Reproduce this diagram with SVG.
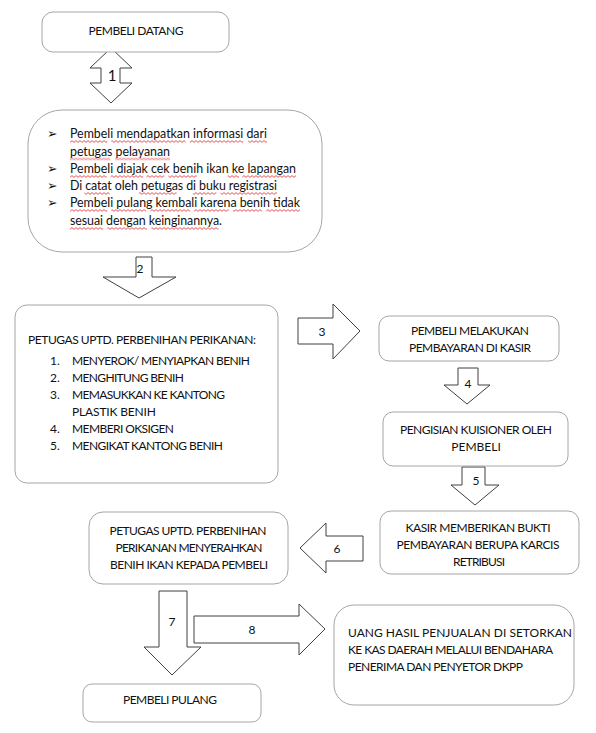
<svg xmlns="http://www.w3.org/2000/svg" width="596" height="733" viewBox="0 0 596 733">
<defs>
<pattern id="wv" patternUnits="userSpaceOnUse" x="0" y="0" width="4" height="3">
<path d="M0,0.6 L2,2.4 L4,0.6" fill="none" stroke="#e0262b" stroke-width="0.8"/>
</pattern>
</defs>
<style>
.box{fill:#fff;stroke:#a6a6a6;stroke-width:1}
.arr{fill:#fff;stroke:#404040;stroke-width:1}
text{font-family:Lato,"Liberation Sans",sans-serif;font-size:12px;fill:#111}
.lc{font-size:12.4px}
.c{text-anchor:middle}
.bl{font-family:"DejaVu Sans",sans-serif;font-size:12.5px}
.sq{fill:url(#wv)}
</style>
<rect width="596" height="733" fill="#fff"/>
<g id="connectors">
<polygon class="arr" points="111,48 132,68 120,68 120,83 132,83 111,103 90,83 101,83 101,68 90,68"/>
<text class="c" x="112" y="81" style="font-size:15px">1</text>
<polygon class="arr" points="136,257 152,257 152,277 176,277 139,298 103,277 136,277"/>
<text class="c" x="140" y="273">2</text>
<polygon class="arr" points="298,318 333,318 333,304 360,331 333,359 333,344 298,344"/>
<text class="c" x="322" y="336">3</text>
<polygon class="arr" points="458,368 478,368 478,385 490,385 467,404 444,385 458,385"/>
<text class="c" x="468" y="388">4</text>
<polygon class="arr" points="462,467 485,467 485,485 499,485 475,505 451,485 462,485"/>
<text class="c" x="476" y="485">5</text>
<polygon class="arr" points="363,536 363,561 326,561 326,573 300,548 326,523 326,536"/>
<text class="c" x="337" y="553">6</text>
<polygon class="arr" points="159,591 187,591 187,647 201,647 172,675 144,647 159,647"/>
<text class="c" x="172" y="626">7</text>
<polygon class="arr" points="194,616 299,616 299,604 325,629 299,655 299,643 194,643"/>
<text class="c" x="252" y="634">8</text>
</g>
<g id="n1">
<rect class="box" x="42" y="12" width="187" height="40" rx="11"/>
<text class="c" x="136" y="35" textLength="95">PEMBELI DATANG</text>
</g>
<g id="n2">
<rect class="box" x="28" y="110" width="294" height="142" rx="34"/>
<text class="bl" x="47" y="138">➢</text>
<text class="bl" x="47" y="173">➢</text>
<text class="bl" x="47" y="190">➢</text>
<text class="bl" x="47" y="207">➢</text>
<g transform="translate(0,140)"><rect class="sq" x="70" y="0" width="37.3" height="3"/><rect class="sq" x="111.3" y="0" width="74.2" height="3"/><rect class="sq" x="189.8" y="0" width="53.5" height="3"/><rect class="sq" x="248.2" y="0" width="18.8" height="3"/></g>
<g transform="translate(0,157.5)"><rect class="sq" x="70" y="0" width="40" height="3"/><rect class="sq" x="115" y="0" width="55" height="3"/></g>
<g transform="translate(0,175)"><rect class="sq" x="70" y="0" width="36.7" height="3"/><rect class="sq" x="110.6" y="0" width="32.6" height="3"/><rect class="sq" x="146.4" y="0" width="17.9" height="3"/><rect class="sq" x="168.5" y="0" width="28.3" height="3"/><rect class="sq" x="227.7" y="0" width="11.3" height="3"/><rect class="sq" x="242.3" y="0" width="53.7" height="3"/></g>
<g transform="translate(0,192)"><rect class="sq" x="84.3" y="0" width="25.5" height="3"/><rect class="sq" x="139" y="0" width="37.6" height="3"/><rect class="sq" x="193.2" y="0" width="23.2" height="3"/><rect class="sq" x="220.6" y="0" width="56.4" height="3"/></g>
<g transform="translate(0,209)"><rect class="sq" x="70" y="0" width="37.4" height="3"/><rect class="sq" x="111.4" y="0" width="34.7" height="3"/><rect class="sq" x="150.4" y="0" width="39.7" height="3"/><rect class="sq" x="194.1" y="0" width="34.7" height="3"/><rect class="sq" x="233.1" y="0" width="28.8" height="3"/><rect class="sq" x="266.3" y="0" width="33.7" height="3"/></g>
<g transform="translate(0,227)"><rect class="sq" x="70" y="0" width="33.2" height="3"/><rect class="sq" x="107.4" y="0" width="39.5" height="3"/><rect class="sq" x="151.4" y="0" width="67.1" height="3"/></g>
<text class="lc" x="70" y="138" textLength="197">Pembeli mendapatkan informasi dari</text>
<text class="lc" x="70" y="155.5" textLength="100">petugas pelayanan</text>
<text class="lc" x="70" y="173" textLength="226">Pembeli diajak cek benih ikan ke lapangan</text>
<text class="lc" x="70" y="190" textLength="207">Di catat oleh petugas di buku registrasi</text>
<text class="lc" x="70" y="207" textLength="230">Pembeli pulang kembali karena benih tidak</text>
<text class="lc" x="70" y="225" textLength="152">sesuai dengan keinginannya.</text>
</g>
<g id="n3">
<rect class="box" x="15" y="305" width="263" height="178" rx="12"/>
<text x="28" y="344" textLength="228">PETUGAS UPTD. PERBENIHAN PERIKANAN:</text>
<text x="50" y="365">1.</text><text x="72" y="365" textLength="178">MENYEROK/ MENYIAPKAN BENIH</text>
<text x="50" y="382">2.</text><text x="72" y="382" textLength="112">MENGHITUNG BENIH</text>
<text x="50" y="399">3.</text><text x="72" y="399" textLength="153">MEMASUKKAN KE KANTONG</text>
<text x="72" y="416" textLength="84">PLASTIK BENIH</text>
<text x="50" y="433">4.</text><text x="72" y="433" textLength="102">MEMBERI OKSIGEN</text>
<text x="50" y="450">5.</text><text x="72" y="450" textLength="151">MENGIKAT KANTONG BENIH</text>
</g>
<g id="n4">
<rect class="box" x="379" y="316" width="180" height="45" rx="10"/>
<text class="c" x="470" y="335" textLength="118">PEMBELI MELAKUKAN</text>
<text class="c" x="470" y="352" textLength="122">PEMBAYARAN DI KASIR</text>
</g>
<g id="n5">
<rect class="box" x="383" y="412" width="185" height="54" rx="10"/>
<text class="c" x="476" y="434" textLength="152">PENGISIAN KUISIONER OLEH</text>
<text class="c" x="476" y="451">PEMBELI</text>
</g>
<g id="n6">
<rect class="box" x="380" y="511" width="199" height="63" rx="11"/>
<text class="c" x="478" y="532" textLength="145">KASIR MEMBERIKAN BUKTI</text>
<text class="c" x="478" y="549" textLength="163">PEMBAYARAN BERUPA KARCIS</text>
<text class="c" x="479" y="566" textLength="52">RETRIBUSI</text>
</g>
<g id="n7">
<rect class="box" x="89" y="512" width="199" height="72" rx="14"/>
<text class="c" x="188" y="535" textLength="157">PETUGAS UPTD. PERBENIHAN</text>
<text class="c" x="189" y="552" textLength="147">PERIKANAN MENYERAHKAN</text>
<text class="c" x="189" y="569" textLength="158">BENIH IKAN KEPADA PEMBELI</text>
</g>
<g id="n8">
<rect class="box" x="334" y="605" width="240" height="100" rx="20"/>
<text x="348" y="637" textLength="224">UANG HASIL PENJUALAN DI SETORKAN</text>
<text x="348" y="654" textLength="205">KE KAS DAERAH MELALUI BENDAHARA</text>
<text x="348" y="671" textLength="175">PENERIMA DAN PENYETOR DKPP</text>
</g>
<g id="n9">
<rect class="box" x="83" y="684" width="178" height="38" rx="9"/>
<text class="c" x="170" y="704" textLength="94">PEMBELI PULANG</text>
</g>
</svg>
